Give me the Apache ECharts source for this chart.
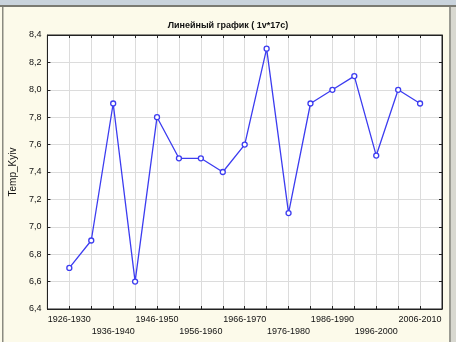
<!DOCTYPE html>
<html><head><meta charset="utf-8">
<script src="https://cdn.jsdelivr.net/npm/echarts@6/dist/echarts.min.js"></script>
<style>html,body{margin:0;padding:0;background:#fcfaea;}#c{width:456px;height:342px;}</style>
</head><body><div id="c"></div>
<script>
const categories = ['1926-1930','1931-1935','1936-1940','1941-1945','1946-1950','1951-1955','1956-1960','1961-1965','1966-1970','1971-1975','1976-1980','1981-1985','1986-1990','1991-1995','1996-2000','2001-2005','2006-2010'];
const tempKyiv = [6.7, 6.9, 7.9, 6.6, 7.8, 7.5, 7.5, 7.4, 7.6, 8.3, 7.1, 7.9, 8.0, 8.1, 7.52, 8.0, 7.9];
const yTicks = [6.4, 6.6, 6.8, 7.0, 7.2, 7.4, 7.6, 7.8, 8.0, 8.2, 8.4];
const titleText = 'Линейный график ( 1v*17c)';
const yName = 'Temp_Kyiv';

const chart = echarts.init(document.getElementById('c'), null, {renderer:'canvas'});
const font = 'Liberation Sans, Arial, sans-serif';
function xLabel(v){
  const i = Math.round(v);
  if (i < 0 || i >= categories.length || i % 2 !== 0) return '';
  return (i / 2) % 2 === 0 ? categories[i] : '\n' + categories[i];
}
const tickStyle = {show:true, inside:true, length:3, lineStyle:{color:'#222', width:1}};
chart.setOption({
  backgroundColor:'#fcfaea',
  animation:false,
  title:{text:titleText, left:'center', top:16, textStyle:{fontFamily:font, fontSize:9, fontWeight:'bold', color:'#111'}},
  graphic:[
    {type:'rect', shape:{x:0,y:0,width:456,height:5}, style:{fill:'#c9d3dc'}, silent:true},
    {type:'rect', shape:{x:0,y:5,width:456,height:2}, style:{fill:'#7a7a72'}, silent:true},
    {type:'rect', shape:{x:2,y:7,width:1.5,height:335}, style:{fill:'#8a8a80'}, silent:true},
    {type:'rect', shape:{x:449,y:7,width:2,height:335}, style:{fill:'#9a9a92'}, silent:true},
    {type:'rect', shape:{x:451,y:7,width:5,height:335}, style:{fill:'#d8d8d0'}, silent:true}
  ],
  grid:{left:43, right:14, top:35, bottom:33, show:true, backgroundColor:'#ffffff', borderColor:'#222', borderWidth:1},
  xAxis:[{
    type:'value', min:-1, max:categories.length, interval:1,
    axisLine:{show:true, onZero:false, lineStyle:{color:'#222'}},
    axisTick:tickStyle,
    splitLine:{show:true, lineStyle:{color:'#dcdcdc', width:1}},
    axisLabel:{formatter:xLabel, fontFamily:font, fontSize:9, color:'#111', margin:5, lineHeight:12, showMinLabel:true, showMaxLabel:true}
  },{
    type:'value', position:'top', min:-1, max:categories.length, interval:1,
    axisLine:{show:true, onZero:false, lineStyle:{color:'#222'}}, axisTick:tickStyle, axisLabel:{show:false}, splitLine:{show:false}
  }],
  yAxis:[{
    type:'value', min:yTicks[0], max:yTicks[yTicks.length-1], interval:0.2,
    name:yName, nameLocation:'middle', nameGap:26, nameRotate:90,
    nameTextStyle:{fontFamily:font, fontSize:10, color:'#111'},
    axisLine:{show:true, onZero:false, lineStyle:{color:'#222'}},
    axisTick:tickStyle,
    splitLine:{show:true, lineStyle:{color:'#dcdcdc', width:1}},
    axisLabel:{formatter:v=>v.toFixed(1).replace('.', ','), fontFamily:font, fontSize:9, color:'#111', margin:6}
  },{
    type:'value', position:'right', min:yTicks[0], max:yTicks[yTicks.length-1], interval:0.2,
    axisLine:{show:true, onZero:false, lineStyle:{color:'#222'}}, axisTick:tickStyle, axisLabel:{show:false}, splitLine:{show:false}
  }],
  series:[{
    type:'line',
    data:tempKyiv.map((v,i)=>[i,v]),
    symbol:'circle', symbolSize:5,
    lineStyle:{color:'#3c3cf0', width:1.3},
    itemStyle:{color:'#ffffff', borderColor:'#3c3cf0', borderWidth:1.3}
  }]
});
</script></body></html>
